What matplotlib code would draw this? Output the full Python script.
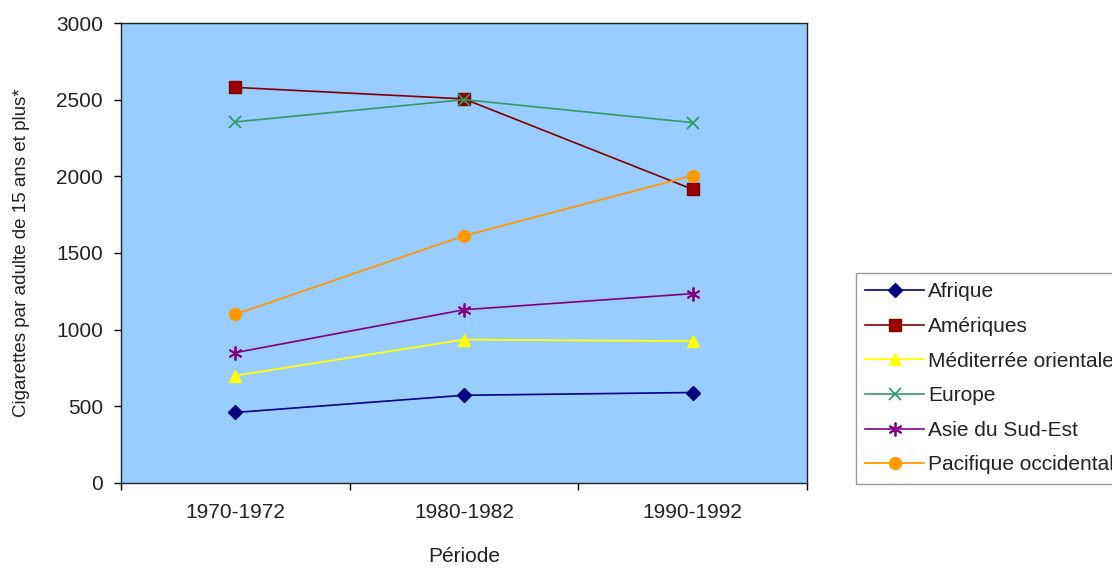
import numpy as np
import matplotlib.pyplot as plt

plt.rcParams['font.family'] = ['Liberation Sans', 'DejaVu Sans']

# Data
periodes = ['1970-1972', '1980-1982', '1990-1992']
afrique = [460, 572, 590]
ameriques = [2580, 2505, 1915]
mediterranee = [700, 935, 925]
europe = [2355, 2500, 2350]
asie = [850, 1130, 1235]
pacifique = [1100, 1612, 2005]

x = np.arange(len(periodes))

fig = plt.figure(figsize=(11.12, 5.78), dpi=100)
ax = fig.add_axes([0.1088, 0.1644, 0.617, 0.7958])
ax.set_facecolor('#99CCFF')

ax.plot(x, afrique, marker='D', color='#000080', lw=1.2, ms=7, label='Afrique')
ax.plot(x, ameriques, marker='s', color='#800000', mfc='#990000', lw=1.2, ms=8, label='Amériques')
ax.plot(x, mediterranee, marker='^', color='#FFFF00', lw=1.3, ms=9, label='Méditerrée orientale')
ax.plot(x, europe, marker='x', color='#339966', lw=1.2, ms=8, mew=1.3, label='Europe')
ax.plot(x, asie, marker=(6, 2, 0), color='#800080', lw=1.2, ms=10, mew=1.3, label='Asie du Sud-Est')
ax.plot(x, pacifique, marker='o', color='#FF9900', lw=1.3, ms=8.5, label='Pacifique occidental')

fs = 15
ax.set_ylim(0, 3000)
ax.set_yticks(np.arange(0, 3001, 500))
ax.set_xlim(-0.5, 2.5)
ax.set_xticks(x)
ax.set_xticklabels(periodes)
ax.tick_params(axis='x', length=0, pad=14.5, labelsize=fs, colors='#222222')
ax.tick_params(axis='y', length=5, width=1, pad=8, direction='out', labelsize=fs, colors='#222222')
ax.tick_params(axis='both', color='black')
ax.set_xticks([-0.5, 0.5, 1.5, 2.5], minor=True)
ax.tick_params(axis='x', which='minor', length=5, width=1, direction='out', color='black')
for s in ax.spines.values():
    s.set_color('#222222')
    s.set_linewidth(1.0)

ax.set_ylabel('Cigarettes par adulte de 15 ans et plus*', fontsize=13.5, color='#222222', labelpad=19)
ax.set_xlabel('Période', fontsize=fs, color='#222222', labelpad=18)

leg = fig.legend(loc='upper left', bbox_to_anchor=(856 / 1112, 1 - 273 / 578),
                 fontsize=fs, frameon=True, fancybox=False, edgecolor='#808080',
                 handlelength=2.8, labelspacing=0.75, borderpad=0.45, handletextpad=0.2,
                 borderaxespad=0)
leg.get_frame().set_linewidth(1.0)
for t in leg.get_texts():
    t.set_color('#222222')

fig.savefig('out.png', dpi=100)
